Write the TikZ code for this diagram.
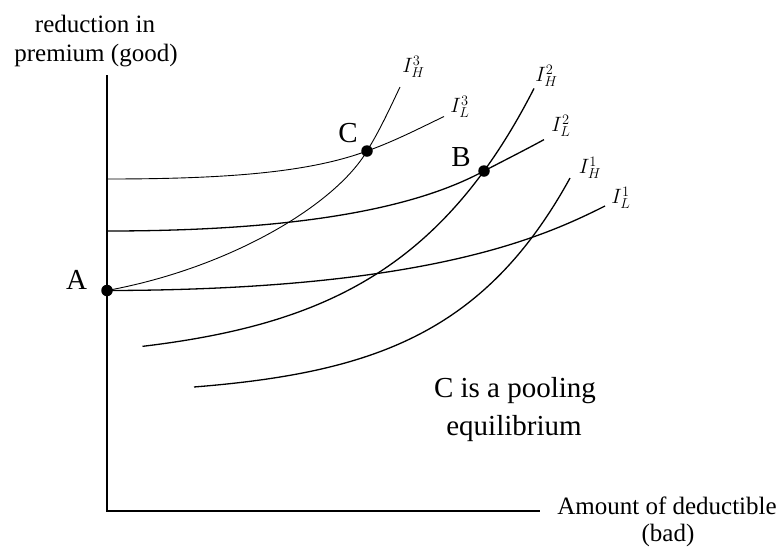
\documentclass[tikz,border=0pt]{standalone}
\usepackage{fontspec}
\setmainfont{Liberation Serif}
\begin{document}
\begin{tikzpicture}[x=1pt,y=-1pt,
  thincurve/.style={line width=0.9pt},
  curve/.style={line width=1.3pt},
  axis/.style={line width=1.5pt},
  dot/.style={circle,fill=black,inner sep=0pt,minimum size=11.5pt},
  ptlabel/.style={font=\fontsize{29}{32}\selectfont, anchor=base},
  axlabel/.style={font=\fontsize{25}{29}\selectfont, anchor=base},
  notelabel/.style={font=\fontsize{29}{34}\selectfont, anchor=base},
  clabel/.style={font=\fontsize{22}{24}\selectfont},
]
\useasboundingbox (0,0) rectangle (781,550);
% axes
\coordinate (Ytop) at (107,75);
\coordinate (O) at (107,511);
\coordinate (Xend) at (540,511);
\draw[axis] (Ytop) -- (O) -- (Xend);
% key points
\coordinate (A) at (107,290.5);
\coordinate (B) at (484,171);
\coordinate (C) at (367,151);
% low-risk indifference curves
\draw[thincurve] (107,179) .. controls (230,179) and (310,172) .. (C)
   .. controls (395,141) and (420,128) .. (444,116.5);
\draw[curve] (107,231) .. controls (330,231) and (430,200) .. (B)
   .. controls (505,160) and (525,150) .. (544,139.6);
\draw[curve] (A) .. controls (430,290) and (545,236) .. (605,206);
% high-risk indifference curves
\draw[thincurve] (A) .. controls (230,268) and (335,205) .. (C)
   .. controls (380,130) and (390,108) .. (400,87);
\draw[curve, domain=142.5:534, samples=90, smooth] plot (\x, {363.1-6.057*exp(\x/140)});
\draw[curve, domain=194:570, samples=90, smooth] plot (\x, {396.5-1.89*exp(\x/120)});
% dots
\node[dot] (dA) at (A) {};
\node[dot] (dB) at (B) {};
\node[dot] (dC) at (C) {};
% point labels
\node[ptlabel] (lA) at (76.5,289) {A};
\node[ptlabel] (lB) at (461,166) {B};
\node[ptlabel] (lC) at (348,142) {C};
% curve labels
\node[clabel] (lH3) at (413.5,67) {$I_H^3$};
\node[clabel] (lL3) at (460,107) {$I_L^3$};
\node[clabel] (lH2) at (546.5,76) {$I_H^2$};
\node[clabel] (lL2) at (561,126) {$I_L^2$};
\node[clabel] (lH1) at (590,168) {$I_H^1$};
\node[clabel] (lL1) at (621,198) {$I_L^1$};
% axis labels
\node[axlabel] (y1) at (95,32) {reduction in};
\node[axlabel] (y2) at (96,61) {premium (good)};
\node[axlabel] (x1) at (667,514) {Amount of deductible};
\node[axlabel] (x2) at (668,541) {(bad)};
% note
\node[notelabel] (n1) at (515,397) {C is a pooling};
\node[notelabel] (n2) at (514,435) {equilibrium};
\end{tikzpicture}
\end{document}
